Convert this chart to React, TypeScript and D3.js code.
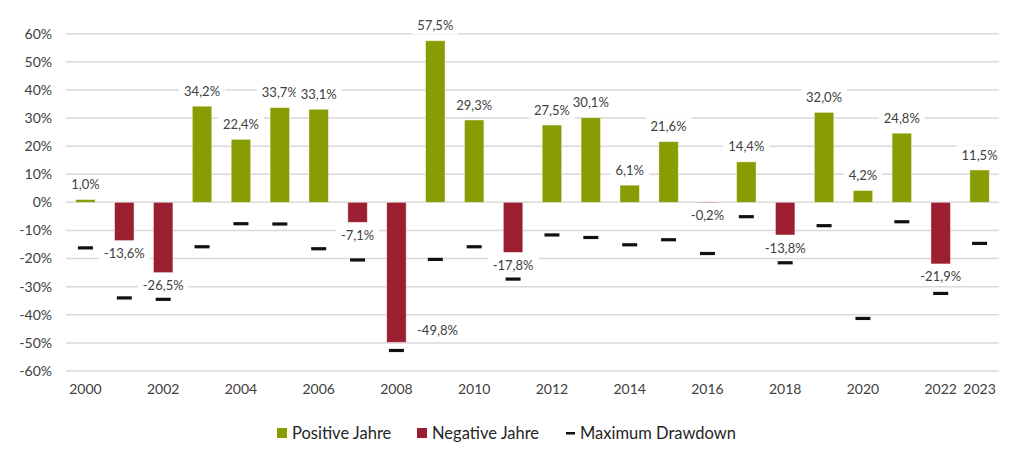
import { useEffect, useRef } from 'react';
import * as d3 from 'd3';

const years = [
  '2000', '2001', '2002', '2003', '2004', '2005', '2006', '2007', '2008', '2009', '2010', '2011',
  '2012', '2013', '2014', '2015', '2016', '2017', '2018', '2019', '2020', '2021', '2022', '2023',
];
// bar heights as drawn in the picture
const returns = [
  1.0, -13.6, -25.0, 34.2, 22.4, 33.7, 33.1, -7.1, -49.8, 57.5, 29.3, -17.8,
  27.5, 30.1, 6.1, 21.6, -0.2, 14.4, -11.6, 32.0, 4.2, 24.6, -21.9, 11.5,
];
// printed data labels
const valueLabels = [
  '1,0%', '-13,6%', '-26,5%', '34,2%', '22,4%', '33,7%', '33,1%', '-7,1%', '-49,8%', '57,5%', '29,3%', '-17,8%',
  '27,5%', '30,1%', '6,1%', '21,6%', '-0,2%', '14,4%', '-13,8%', '32,0%', '4,2%', '24,8%', '-21,9%', '11,5%',
];
const drawdowns = [
  -16.2, -34.0, -34.5, -15.8, -7.6, -7.7, -16.5, -20.5, -52.7, -20.3, -15.8, -27.3,
  -11.6, -12.5, -15.1, -13.3, -18.2, -5.1, -21.5, -8.3, -41.3, -6.9, -32.4, -14.6,
];
const yTicks = [60, 50, 40, 30, 20, 10, 0, -10, -20, -30, -40, -50, -60];
const xTickLabels = ['2000', '2002', '2004', '2006', '2008', '2010', '2012', '2014', '2016', '2018', '2020', '2022', '2023'];
const legendItems = ['Positive Jahre', 'Negative Jahre', 'Maximum Drawdown'];

const GREEN = '#8a9c04';
const RED = '#9c1f31';
const TEXT = '#404040';
const FONT = 'Lato, "Open Sans", sans-serif';

export default function App() {
  const ref = useRef<SVGSVGElement | null>(null);

  useEffect(() => {
    const width = 1015;
    const height = 457;
    const margin = { left: 66, right: 16, top: 0, bottom: 0 };

    const svg = d3.select(ref.current);
    svg.selectAll('*').remove();
    svg.attr('width', width).attr('height', height);

    const x = d3
      .scaleBand()
      .domain(years)
      .range([margin.left, width - margin.right])
      .paddingInner(0.5)
      .paddingOuter(0.25);

    const y = d3.scaleLinear().domain([-60, 60]).range([371, 33.7]);

    // grid
    svg
      .append('g')
      .selectAll('line')
      .data(yTicks)
      .enter()
      .append('line')
      .attr('x1', margin.left)
      .attr('x2', width - margin.right)
      .attr('y1', (d) => y(d))
      .attr('y2', (d) => y(d))
      .attr('stroke', '#d9d9d9')
      .attr('stroke-width', 1.5);

    // y labels
    svg
      .append('g')
      .selectAll('text')
      .data(yTicks)
      .enter()
      .append('text')
      .attr('x', 52)
      .attr('y', (d) => y(d))
      .attr('dy', '0.35em')
      .attr('text-anchor', 'end')
      .style('font-family', FONT)
      .style('font-size', '14px')
      .style('fill', TEXT)
      .text((d) => `${d}%`);

    // x labels
    svg
      .append('g')
      .selectAll('text')
      .data(xTickLabels)
      .enter()
      .append('text')
      .attr('x', (d) => (x(d) as number) + x.bandwidth() / 2)
      .attr('y', 389)
      .attr('dy', '0.35em')
      .attr('text-anchor', 'middle')
      .style('font-family', FONT)
      .style('font-size', '14px')
      .style('fill', TEXT)
      .text((d) => d);

    const rows = years.map((yr, i) => ({ yr, v: returns[i], dd: drawdowns[i], label: valueLabels[i] }));

    // bars
    svg
      .append('g')
      .selectAll('rect')
      .data(rows)
      .enter()
      .append('rect')
      .attr('x', (d) => x(d.yr) as number)
      .attr('width', x.bandwidth())
      .attr('y', (d) => y(Math.max(0, d.v)))
      .attr('height', (d) => Math.abs(y(d.v) - y(0)))
      .attr('fill', (d) => (d.v >= 0 ? GREEN : RED))
      .attr('stroke', 'rgba(255,255,255,0.5)')
      .attr('stroke-width', 0.8);

    // drawdown markers
    svg
      .append('g')
      .selectAll('rect')
      .data(rows)
      .enter()
      .append('rect')
      .attr('x', (d) => (x(d.yr) as number) + x.bandwidth() / 2 - 7.5)
      .attr('y', (d) => y(d.dd) - 1.6)
      .attr('width', 15)
      .attr('height', 3.2)
      .attr('fill', '#111');

    // data labels with white background
    const labels = svg
      .append('g')
      .selectAll('g')
      .data(rows)
      .enter()
      .append('g')
      .attr('transform', (d) => {
        const cx = (x(d.yr) as number) + x.bandwidth() / 2;
        if (d.yr === '2008') return `translate(${cx + 41},${y(d.v) - 12})`;
        const cy = d.v >= 0 ? y(d.v) - 15 : y(d.v) + 13;
        return `translate(${cx},${cy})`;
      });

    const bg = labels.append('rect').attr('fill', 'white');
    const txt = labels
      .append('text')
      .attr('text-anchor', 'middle')
      .attr('dy', '0.35em')
      .style('font-family', FONT)
      .style('font-size', '13px')
      .style('fill', TEXT)
      .text((d) => d.label);

    txt.each(function (_d, i) {
      const b = (this as SVGTextElement).getBBox();
      d3.select(bg.nodes()[i])
        .attr('x', b.x - 5)
        .attr('y', b.y - 1)
        .attr('width', b.width + 10)
        .attr('height', b.height + 2);
    });

    // legend
    const legend = svg.append('g').attr('transform', 'translate(0,433)');
    const legendX = [277, 417, 566];
    legendItems.forEach((label, i) => {
      const g = legend.append('g').attr('transform', `translate(${legendX[i]},0)`);
      if (i < 2) {
        g.append('rect')
          .attr('x', 0)
          .attr('y', -5)
          .attr('width', 10)
          .attr('height', 10)
          .attr('fill', i === 0 ? GREEN : RED);
      } else {
        g.append('rect').attr('x', 0).attr('y', -1).attr('width', 9).attr('height', 2.5).attr('fill', '#111');
      }
      g.append('text')
        .attr('x', i < 2 ? 15 : 14)
        .attr('dy', '0.35em')
        .style('font-family', FONT)
        .style('font-size', '16.5px')
        .style('fill', '#262626')
        .text(label);
    });
  }, []);

  return <svg ref={ref} style={{ position: 'absolute', left: 0, top: 0, background: 'white' }} />;
}
